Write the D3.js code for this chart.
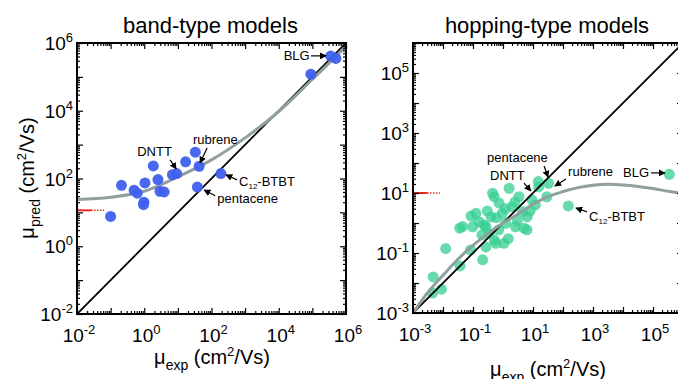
<!DOCTYPE html>
<html>
<head>
<meta charset="utf-8">
<script src="https://cdn.jsdelivr.net/npm/d3@7"></script>
<style>
  body { margin: 0; background: #fff; }
  svg text { font-family: "Liberation Sans", Arial, sans-serif; }
</style>
</head>
<body>
<div id="chart"></div>
<script>
// band-type panel: measured vs predicted mobility
const bandX = [0.1, 0.21, 0.5, 0.62, 0.98, 0.95, 1.05, 1.86, 2.56, 2.94, 3.9, 6.9, 9.2, 17, 33, 43, 38, 190, 9e4, 3.5e5, 5e5];
const bandY = [7.6, 63, 45, 37, 20, 17, 74, 235, 93, 42, 40, 130, 140, 310, 600, 230, 56, 140, 1.2e5, 4.1e5, 3.5e5];
// band fit curve
const bandFitX = [1e-2, 1e-1, 1, 10, 100, 1e3, 1e4, 1e5, 3.2e5, 1e6];
const bandFitY = [24, 28, 42, 112, 355, 1580, 9500, 85000, 2.6e5, 7.9e5];
const bandRed = 11.5;

// hopping-type panel
const hopX = [0.0047, 0.0045, 0.0089, 0.0123, 0.036, 0.037, 0.086, 0.126, 0.098, 0.16, 0.21, 0.45, 0.51, 0.40, 0.27, 0.35,
  0.51, 0.58, 0.27, 0.74, 0.95, 1.23, 1.6, 2.0, 2.6, 3.4, 4.4, 5.0, 6.4, 9.3, 12, 15.5, 29, 33, 15, 150, 3.5e5,
  0.083, 1.07, 6.3, 0.045, 0.23, 0.72, 0.2, 1.5, 3, 8, 0.6, 2.5, 1.2, 0.3];
const hopY = [0.016, 0.0046, 0.0062, 0.14, 0.67, 0.037, 1.7, 2.1, 0.75, 1.1, 0.059, 9.8, 7.5, 1.6, 0.75, 0.45,
  0.27, 0.21, 0.16, 4.6, 2.1, 0.98, 14.4, 3.5, 0.75, 7.5, 2.4, 0.67, 1.6, 5.8, 4.0, 16, 7.5, 21, 24, 3.7, 42,
  0.126, 0.21, 0.59, 0.76, 0.86, 0.59, 0.4, 0.3, 1.2, 2.5, 1.5, 5, 3, 2.5];
const hopFitX = [1e-3, 3.2e-3, 1e-2, 3.2e-2, 0.1, 0.32, 1, 3.2, 10, 32, 100, 320, 1e3, 3.2e3, 1e4, 3.2e4, 1e5, 3.2e5, 1e6];
const hopFitY = [1e-3, 5e-3, 0.018, 0.063, 0.18, 0.45, 1.0, 2.0, 4.2, 7.6, 11.2, 15.1, 18.2, 19.5, 18.6, 16.6, 14.1, 11.5, 9.5];
const hopRed = 10;

const bandTicks = [-2, 0, 2, 4, 6];
const hopTicks = [-3, -1, 1, 3, 5];

const bandNotes = [
  {t: "BLG", x: 10**4.92, y: 10**5.5, anchor: "end", ax: [10**4.96, 10**5.62], bx: [10**5.41, 10**5.62]},
  {t: "DNTT", x: 10**-0.21, y: 10**2.67, anchor: "start", ax: [10**0.77, 10**2.55], bx: [10**0.95, 10**2.28]},
  {t: "rubrene", x: 10**1.45, y: 10**3.02, anchor: "start", ax: [10**1.87, 10**2.9], bx: [10**1.66, 10**2.46]},
  {t: "C", sub: "12", rest: "-BTBT", x: 10**2.82, y: 10**1.77, anchor: "start", ax: [10**2.76, 10**1.96], bx: [10**2.43, 10**2.11]},
  {t: "pentacene", x: 10**2.17, y: 10**1.29, anchor: "start", ax: [10**2.11, 10**1.49], bx: [10**1.78, 10**1.66]}
];
const hopNotes = [
  {t: "pentacene", x: 10**-0.53, y: 10**2.03, anchor: "start", ax: [10**1.37, 10**1.9], bx: [10**1.5, 10**1.53]},
  {t: "DNTT", x: 10**-0.43, y: 10**1.43, anchor: "start", ax: [10**0.7, 10**1.33], bx: [10**0.93, 10**1.07]},
  {t: "rubrene", x: 10**2.17, y: 10**1.57, anchor: "start", ax: [10**2.1, 10**1.47], bx: [10**1.73, 10**1.23]},
  {t: "BLG", x: 10**4.87, y: 10**1.53, anchor: "end", ax: [10**4.93, 10**1.67], bx: [10**5.4, 10**1.67]},
  {t: "C", sub: "12", rest: "-BTBT", x: 10**2.87, y: 10**0.07, anchor: "start", ax: [10**2.8, 10**0.37], bx: [10**2.43, 10**0.5]}
];

const svg = d3.select("#chart").append("svg")
  .attr("width", 678).attr("height", 379);

svg.append("defs").append("marker")
  .attr("id", "arr").attr("viewBox", "0 0 10 10")
  .attr("refX", 9).attr("refY", 5)
  .attr("markerWidth", 7).attr("markerHeight", 7)
  .attr("markerUnits", "userSpaceOnUse")
  .attr("orient", "auto")
  .append("path").attr("d", "M0,0L10,5L0,10z").attr("fill", "#000");

function panel(cfg) {
  const x = d3.scaleLog().domain(cfg.dom).range(cfg.xr);
  const y = d3.scaleLog().domain(cfg.dom).range(cfg.yr);
  const g = svg.append("g");
  const lo = Math.log10(cfg.dom[0]), hi = Math.log10(cfg.dom[1]);
  const major = d3.range(lo, hi + 1).map(e => 10 ** e);
  const minor = [];
  for (let e = lo; e < hi; e++) for (let k = 2; k <= 9; k++) minor.push(k * 10 ** e);

  const clipId = "clip" + cfg.id;
  svg.select("defs").append("clipPath").attr("id", clipId)
    .append("rect").attr("x", cfg.xr[0]).attr("y", cfg.yr[1])
    .attr("width", cfg.xr[1] - cfg.xr[0]).attr("height", cfg.yr[0] - cfg.yr[1]);

  const plot = g.append("g").attr("clip-path", `url(#${clipId})`);
  const line = d3.line().x(d => x(d[0])).y(d => y(d[1]));

  function drawLines() {
    plot.append("path").datum(cfg.dom.map(v => [v, v]))
      .attr("d", line).attr("stroke", "#000").attr("stroke-width", 1.8).attr("fill", "none");
    plot.append("path").datum(cfg.fitX.map((v, i) => [v, cfg.fitY[i]]))
      .attr("d", line.curve(d3.curveMonotoneX)).attr("stroke", "#929f9f").attr("stroke-width", 3).attr("fill", "none");
    line.curve(d3.curveLinear);
  }
  function drawDots() {
    plot.selectAll("circle.dot").data(cfg.px.map((v, i) => [v, cfg.py[i]]))
      .enter().append("circle").attr("class", "dot")
      .attr("cx", d => x(d[0])).attr("cy", d => y(d[1])).attr("r", 5.5)
      .attr("fill", cfg.color).attr("fill-opacity", cfg.alpha);
  }
  if (cfg.dotsOnTop) { drawLines(); drawDots(); } else { drawDots(); drawLines(); }

  // red marker at the left edge
  const ry = y(cfg.red);
  g.append("line").attr("x1", cfg.xr[0]).attr("x2", cfg.xr[0] + 14).attr("y1", ry).attr("y2", ry)
    .attr("stroke", "#e8281e").attr("stroke-width", 2);
  g.append("line").attr("x1", cfg.xr[0] + 14).attr("x2", cfg.xr[0] + 27).attr("y1", ry).attr("y2", ry)
    .attr("stroke", "#e8281e").attr("stroke-width", 1.5).attr("stroke-dasharray", "1.5,1.5");

  // ticks inward on all sides
  const sides = [
    [d3.axisBottom(x), `translate(0,${cfg.yr[0]})`],
    [d3.axisTop(x), `translate(0,${cfg.yr[1]})`],
    [d3.axisLeft(y), `translate(${cfg.xr[0]},0)`],
    [d3.axisRight(y), `translate(${cfg.xr[1]},0)`]
  ];
  sides.forEach(([ax, tr]) => {
    const a1 = g.append("g").attr("transform", tr)
      .call(ax.tickValues(major).tickSize(-6).tickFormat(""));
    const a2 = g.append("g").attr("transform", tr)
      .call(ax.tickValues(minor).tickSize(-3).tickFormat(""));
    [a1, a2].forEach(a => {
      a.select(".domain").remove();
      a.selectAll("line").attr("stroke", "#000").attr("stroke-width", 1.2);
    });
  });
  g.append("rect").attr("x", cfg.xr[0]).attr("y", cfg.yr[1])
    .attr("width", cfg.xr[1] - cfg.xr[0]).attr("height", cfg.yr[0] - cfg.yr[1])
    .attr("fill", "none").attr("stroke", "#000").attr("stroke-width", 2);

  // power-of-ten labels
  cfg.ticks.forEach(e => {
    const tx = g.append("text").attr("x", x(10 ** e) + 2).attr("y", cfg.yr[0] + 28)
      .attr("text-anchor", "middle").attr("font-size", 19);
    tx.append("tspan").text("10");
    tx.append("tspan").attr("dy", -8).attr("font-size", 13).text(e);
    const ty = g.append("text").attr("x", cfg.xr[0] - 4).attr("y", y(10 ** e) + 7)
      .attr("text-anchor", "end").attr("font-size", 19);
    ty.append("tspan").text("10");
    ty.append("tspan").attr("dy", -8).attr("font-size", 13).text(e);
  });

  g.append("text").attr("x", (cfg.xr[0] + cfg.xr[1]) / 2 - 1).attr("y", 33)
    .attr("text-anchor", "middle").attr("font-size", 22).text(cfg.title);

  const xt = g.append("text").attr("x", cfg.xtx).attr("y", cfg.xty)
    .attr("text-anchor", "middle").attr("font-size", 20);
  xt.append("tspan").text("\u03bc");
  xt.append("tspan").attr("dy", 6).attr("font-size", 14).text("exp");
  xt.append("tspan").attr("dy", -6).text(" (cm");
  xt.append("tspan").attr("dy", -8).attr("font-size", 13).text("2");
  xt.append("tspan").attr("dy", 8).text("/Vs)");

  // annotations
  cfg.notes.forEach(n => {
    const t = g.append("text").attr("x", x(n.x)).attr("y", y(n.y))
      .attr("text-anchor", n.anchor).attr("font-size", 13);
    t.append("tspan").text(n.t);
    if (n.sub) {
      t.append("tspan").attr("dy", 3).attr("font-size", 8).text(n.sub);
      t.append("tspan").attr("dy", -3).text(n.rest);
    }
    g.append("line").attr("x1", x(n.ax[0])).attr("y1", y(n.ax[1]))
      .attr("x2", x(n.bx[0])).attr("y2", y(n.bx[1]))
      .attr("stroke", "#000").attr("stroke-width", 1.2).attr("marker-end", "url(#arr)");
  });
  return {x, y};
}

panel({
  id: "band", dom: [1e-2, 1e6], xr: [77, 346], yr: [314, 43],
  px: bandX, py: bandY, fitX: bandFitX, fitY: bandFitY, red: bandRed,
  color: "#4060ee", alpha: 0.95, dotsOnTop: true, ticks: bandTicks,
  title: "band-type models", xtx: 212, xty: 364, notes: bandNotes
});
panel({
  id: "hop", dom: [1e-3, 1e6], xr: [413, 683], yr: [313, 43],
  px: hopX, py: hopY, fitX: hopFitX, fitY: hopFitY, red: hopRed,
  color: "#35cf92", alpha: 0.75, dotsOnTop: false, ticks: hopTicks,
  title: "hopping-type models", xtx: 548, xty: 376, notes: hopNotes
});

// y-axis title (left panel only)
const yt = svg.append("text").attr("transform", "translate(34,178) rotate(-90)")
  .attr("text-anchor", "middle").attr("font-size", 20);
yt.append("tspan").text("\u03bc");
yt.append("tspan").attr("dy", 6).attr("font-size", 14).text("pred");
yt.append("tspan").attr("dy", -6).text(" (cm");
yt.append("tspan").attr("dy", -8).attr("font-size", 13).text("2");
yt.append("tspan").attr("dy", 8).text("/Vs)");
</script>
</body>
</html>
